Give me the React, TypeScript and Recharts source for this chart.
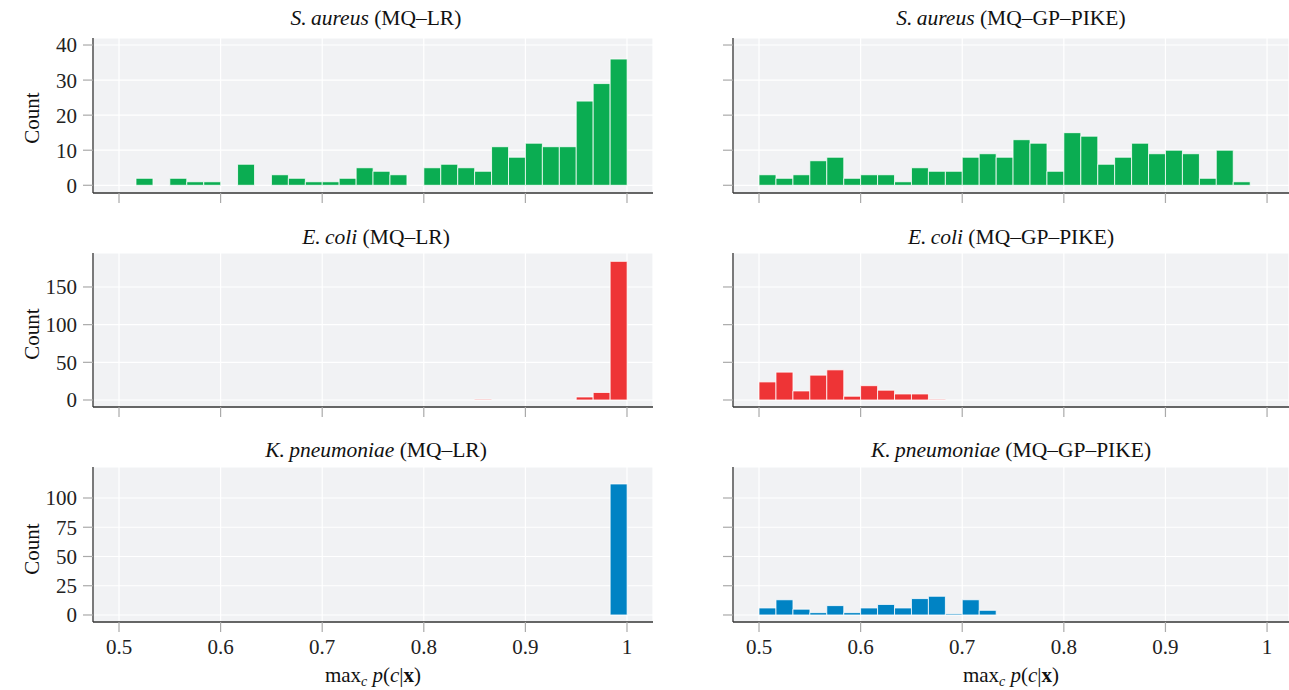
import { BarChart, Bar, XAxis, YAxis, CartesianGrid } from "recharts";

// histogram bins of width 1/60 between 0.5 and 1 (bin centres)
const binCenters = [
  0.5083, 0.525, 0.5417, 0.5583, 0.575, 0.5917, 0.6083, 0.625, 0.6417, 0.6583,
  0.675, 0.6917, 0.7083, 0.725, 0.7417, 0.7583, 0.775, 0.7917, 0.8083, 0.825,
  0.8417, 0.8583, 0.875, 0.8917, 0.9083, 0.925, 0.9417, 0.9583, 0.975, 0.9917,
];

const saureusLR = [0, 2, 0, 2, 1, 1, 0, 6, 0, 3, 2, 1, 1, 2, 5, 4, 3, 0, 5, 6, 5, 4, 11, 8, 12, 11, 11, 24, 29, 36];
const saureusGP = [3, 2, 3, 7, 8, 2, 3, 3, 1, 5, 4, 4, 8, 9, 8, 13, 12, 4, 15, 14, 6, 8, 12, 9, 10, 9, 2, 10, 1, 0];
const ecoliLR = [0, 0, 0, 0, 0, 0, 0, 0, 0, 0, 0, 0, 0, 0, 0, 0, 0, 0, 0, 0, 0, 1, 0, 0, 0, 0, 0, 4, 10, 184];
const ecoliGP = [24, 37, 12, 33, 40, 5, 19, 13, 8, 8, 1, 0, 0, 0, 0, 0, 0, 0, 0, 0, 0, 0, 0, 0, 0, 0, 0, 0, 0, 0];
const kpneuLR = [0, 0, 0, 0, 0, 0, 0, 0, 0, 0, 0, 0, 0, 0, 0, 0, 0, 0, 0, 0, 0, 0, 0, 0, 0, 0, 0, 0, 0, 112];
const kpneuGP = [6, 13, 5, 2, 8, 2, 6, 9, 6, 14, 16, 1, 13, 4, 0, 0, 0, 0, 0, 0, 0, 0, 0, 0, 0, 0, 0, 0, 0, 0];

const xTicks = [0.5, 0.6, 0.7, 0.8, 0.9, 1];
const yTicksRow1 = [0, 10, 20, 30, 40];
const yTicksRow2 = [0, 50, 100, 150];
const yTicksRow3 = [0, 25, 50, 75, 100];

const GREEN = "#0bad52";
const RED = "#ee3436";
const BLUE = "#0083c4";
const FONT = "'Liberation Serif', 'Times New Roman', serif";

const tickStyle = { fontFamily: FONT, fontSize: 21, fill: "#222" };

type PanelProps = {
  left: number;
  top: number;
  width: number;
  height: number;
  values: number[];
  color: string;
  xDomain: [number, number];
  yDomain: [number, number];
  yTicks: number[];
  showYLabels: boolean;
  showXLabels: boolean;
};

function Panel({ left, top, width, height, values, color, xDomain, yDomain, yTicks, showYLabels, showXLabels }: PanelProps) {
  const data = binCenters.map((x, i) => ({ x, count: values[i] }));
  const yAxisW = 60;
  const pad = 14; // room above the plot so the top tick label is not clipped
  const xAxisH = showXLabels ? 44 : 14;
  return (
    <div style={{ position: "absolute", left: left - yAxisW, top: top - pad }}>
      <BarChart
        width={width + yAxisW}
        height={height + xAxisH + pad}
        data={data}
        margin={{ top: pad, right: 0, bottom: 0, left: 0 }}
        barCategoryGap={0}
        barGap={0}
      >
        <CartesianGrid stroke="#ffffff" strokeWidth={1.2} fill="#f1f2f4" />
        <XAxis
          type="number"
          dataKey="x"
          domain={xDomain}
          ticks={xTicks}
          allowDataOverflow
          interval={0}
          height={xAxisH}
          tickSize={10}
          tickMargin={7}
          axisLine={{ stroke: "#333", strokeWidth: 1.3 }}
          tickLine={{ stroke: "#aaa", strokeWidth: 1.2 }}
          tick={tickStyle}
          tickFormatter={(v: number) => (showXLabels ? String(v) : "")}
        />
        <YAxis
          type="number"
          domain={yDomain}
          ticks={yTicks}
          allowDataOverflow
          interval={0}
          width={yAxisW}
          tickSize={10}
          tickMargin={6}
          axisLine={{ stroke: "#333", strokeWidth: 1.3 }}
          tickLine={{ stroke: "#aaa", strokeWidth: 1.2 }}
          tick={tickStyle}
          tickFormatter={(v: number) => (showYLabels ? String(v) : "")}
        />
        <Bar dataKey="count" fill={color} stroke="#ffffff" strokeWidth={0.8} isAnimationActive={false} />
      </BarChart>
    </div>
  );
}

function Title({ cx, cy, species, model }: { cx: number; cy: number; species: string; model: string }) {
  return (
    <div
      style={{
        position: "absolute",
        left: cx - 250,
        top: cy - 13,
        width: 500,
        height: 26,
        lineHeight: "26px",
        textAlign: "center",
        fontSize: 21.5,
        color: "#111",
      }}
    >
      <i>{species}</i> ({model})
    </div>
  );
}

function CountLabel({ cy }: { cy: number }) {
  return (
    <div
      style={{
        position: "absolute",
        left: 32 - 40,
        top: cy - 13,
        width: 80,
        height: 26,
        lineHeight: "26px",
        textAlign: "center",
        fontSize: 21,
        color: "#111",
        transform: "rotate(-90deg)",
      }}
    >
      Count
    </div>
  );
}

function XLabel({ cx }: { cx: number }) {
  return (
    <div
      style={{
        position: "absolute",
        left: cx - 150,
        top: 662,
        width: 300,
        height: 26,
        lineHeight: "26px",
        textAlign: "center",
        fontSize: 21,
        color: "#111",
      }}
    >
      max
      <span style={{ fontSize: 14, fontStyle: "italic", position: "relative", top: 4, lineHeight: 0 }}>c</span>{" "}
      <i>p</i>(<i>c</i>|<b>x</b>)
    </div>
  );
}

export default function App() {
  const leftX = 93;
  const leftW = 560;
  const rightX = 733;
  const rightW = 556;
  const leftDomain: [number, number] = [0.4744, 1.0256];
  const rightDomain: [number, number] = [0.4744, 1.0216];
  const rows = [
    { top: 38, h: 155, dom: [-2.2, 42] as [number, number], ticks: yTicksRow1 },
    { top: 253, h: 154, dom: [-9.3, 195.1] as [number, number], ticks: yTicksRow2 },
    { top: 467, h: 155, dom: [-6, 126.5] as [number, number], ticks: yTicksRow3 },
  ];
  const lcx = leftX + leftW / 2;
  const rcx = rightX + rightW / 2;

  return (
    <div
      style={{
        position: "fixed",
        left: 0,
        top: 0,
        width: 1289,
        height: 690,
        background: "#fff",
        fontFamily: FONT,
        overflow: "hidden",
      }}
    >
      <Title cx={lcx + 3} cy={18} species={"S.\u2009aureus"} model="MQ–LR" />
      <Title cx={rcx} cy={18} species={"S.\u2009aureus"} model="MQ–GP–PIKE" />
      <Title cx={lcx + 3} cy={237} species={"E.\u2009coli"} model="MQ–LR" />
      <Title cx={rcx} cy={237} species={"E.\u2009coli"} model="MQ–GP–PIKE" />
      <Title cx={lcx + 3} cy={450} species={"K.\u2009pneumoniae"} model="MQ–LR" />
      <Title cx={rcx} cy={450} species={"K.\u2009pneumoniae"} model="MQ–GP–PIKE" />

      <Panel left={leftX} top={rows[0].top} width={leftW} height={rows[0].h} values={saureusLR} color={GREEN}
        xDomain={leftDomain} yDomain={rows[0].dom} yTicks={rows[0].ticks} showYLabels showXLabels={false} />
      <Panel left={rightX} top={rows[0].top} width={rightW} height={rows[0].h} values={saureusGP} color={GREEN}
        xDomain={rightDomain} yDomain={rows[0].dom} yTicks={rows[0].ticks} showYLabels={false} showXLabels={false} />
      <Panel left={leftX} top={rows[1].top} width={leftW} height={rows[1].h} values={ecoliLR} color={RED}
        xDomain={leftDomain} yDomain={rows[1].dom} yTicks={rows[1].ticks} showYLabels showXLabels={false} />
      <Panel left={rightX} top={rows[1].top} width={rightW} height={rows[1].h} values={ecoliGP} color={RED}
        xDomain={rightDomain} yDomain={rows[1].dom} yTicks={rows[1].ticks} showYLabels={false} showXLabels={false} />
      <Panel left={leftX} top={rows[2].top} width={leftW} height={rows[2].h} values={kpneuLR} color={BLUE}
        xDomain={leftDomain} yDomain={rows[2].dom} yTicks={rows[2].ticks} showYLabels showXLabels />
      <Panel left={rightX} top={rows[2].top} width={rightW} height={rows[2].h} values={kpneuGP} color={BLUE}
        xDomain={rightDomain} yDomain={rows[2].dom} yTicks={rows[2].ticks} showYLabels={false} showXLabels />

      <CountLabel cy={rows[0].top + rows[0].h / 2 + 2} />
      <CountLabel cy={rows[1].top + rows[1].h / 2 + 4} />
      <CountLabel cy={rows[2].top + rows[2].h / 2 + 4} />

      <XLabel cx={lcx} />
      <XLabel cx={rcx} />
    </div>
  );
}
